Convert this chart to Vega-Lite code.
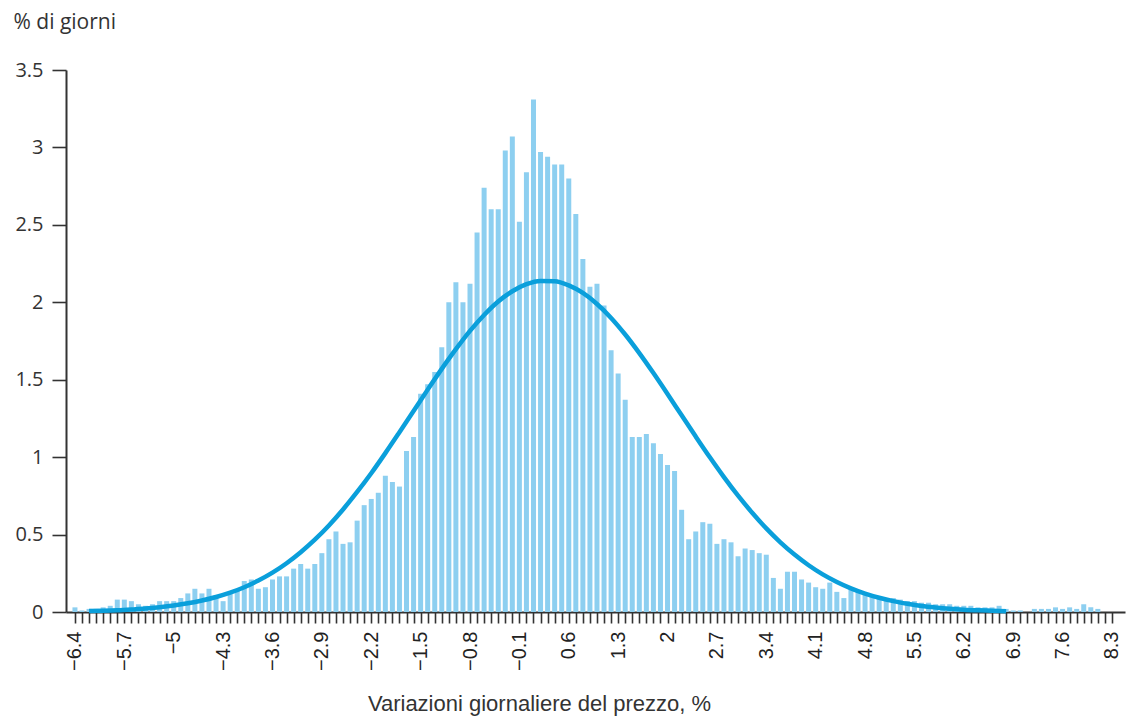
{
  "$schema": "https://vega.github.io/schema/vega-lite/v6.json",
  "autosize": {"type": "none"},
  "width": 1059,
  "height": 542,
  "padding": {"left": 66, "top": 70, "right": 2, "bottom": 108},
  "background": "white",
  "config": {"view": {"stroke": null}},
  "datasets": {
    "bars": [
      {"x": -6.4, "pct": 0.03}, {"x": -6.3, "pct": 0.01}, {"x": -6.2, "pct": 0.02}, {"x": -6.1, "pct": 0.02},
      {"x": -6.0, "pct": 0.03}, {"x": -5.9, "pct": 0.04}, {"x": -5.8, "pct": 0.08}, {"x": -5.7, "pct": 0.08},
      {"x": -5.6, "pct": 0.07}, {"x": -5.5, "pct": 0.05}, {"x": -5.4, "pct": 0.04}, {"x": -5.3, "pct": 0.05},
      {"x": -5.2, "pct": 0.07}, {"x": -5.1, "pct": 0.07}, {"x": -5.0, "pct": 0.07}, {"x": -4.9, "pct": 0.09},
      {"x": -4.8, "pct": 0.12}, {"x": -4.7, "pct": 0.15}, {"x": -4.6, "pct": 0.12}, {"x": -4.5, "pct": 0.15},
      {"x": -4.4, "pct": 0.11}, {"x": -4.3, "pct": 0.07}, {"x": -4.2, "pct": 0.12}, {"x": -4.1, "pct": 0.14},
      {"x": -4.0, "pct": 0.20}, {"x": -3.9, "pct": 0.21}, {"x": -3.8, "pct": 0.15}, {"x": -3.7, "pct": 0.16},
      {"x": -3.6, "pct": 0.21}, {"x": -3.5, "pct": 0.23}, {"x": -3.4, "pct": 0.23}, {"x": -3.3, "pct": 0.28},
      {"x": -3.2, "pct": 0.31}, {"x": -3.1, "pct": 0.28}, {"x": -3.0, "pct": 0.31}, {"x": -2.9, "pct": 0.38},
      {"x": -2.8, "pct": 0.47}, {"x": -2.7, "pct": 0.52}, {"x": -2.6, "pct": 0.44}, {"x": -2.5, "pct": 0.45},
      {"x": -2.4, "pct": 0.59}, {"x": -2.3, "pct": 0.69}, {"x": -2.2, "pct": 0.73}, {"x": -2.1, "pct": 0.77},
      {"x": -2.0, "pct": 0.88}, {"x": -1.9, "pct": 0.84}, {"x": -1.8, "pct": 0.81}, {"x": -1.7, "pct": 1.04},
      {"x": -1.6, "pct": 1.13}, {"x": -1.5, "pct": 1.41}, {"x": -1.4, "pct": 1.47}, {"x": -1.3, "pct": 1.55},
      {"x": -1.2, "pct": 1.71}, {"x": -1.1, "pct": 2.00}, {"x": -1.0, "pct": 2.13}, {"x": -0.9, "pct": 2.00},
      {"x": -0.8, "pct": 2.12}, {"x": -0.7, "pct": 2.45}, {"x": -0.6, "pct": 2.74}, {"x": -0.5, "pct": 2.60},
      {"x": -0.4, "pct": 2.60}, {"x": -0.3, "pct": 2.98}, {"x": -0.2, "pct": 3.07}, {"x": -0.1, "pct": 2.52},
      {"x": 0.0, "pct": 2.84}, {"x": 0.1, "pct": 3.31}, {"x": 0.2, "pct": 2.97}, {"x": 0.3, "pct": 2.94},
      {"x": 0.4, "pct": 2.89}, {"x": 0.5, "pct": 2.89}, {"x": 0.6, "pct": 2.80}, {"x": 0.7, "pct": 2.57},
      {"x": 0.8, "pct": 2.28}, {"x": 0.9, "pct": 2.10}, {"x": 1.0, "pct": 2.12}, {"x": 1.1, "pct": 1.98},
      {"x": 1.2, "pct": 1.69}, {"x": 1.3, "pct": 1.54}, {"x": 1.4, "pct": 1.37}, {"x": 1.5, "pct": 1.13},
      {"x": 1.6, "pct": 1.13}, {"x": 1.7, "pct": 1.15}, {"x": 1.8, "pct": 1.09}, {"x": 1.9, "pct": 1.02},
      {"x": 2.0, "pct": 0.95}, {"x": 2.1, "pct": 0.91}, {"x": 2.2, "pct": 0.66}, {"x": 2.3, "pct": 0.47},
      {"x": 2.4, "pct": 0.52}, {"x": 2.5, "pct": 0.58}, {"x": 2.6, "pct": 0.57}, {"x": 2.7, "pct": 0.44},
      {"x": 2.8, "pct": 0.47}, {"x": 2.9, "pct": 0.45}, {"x": 3.0, "pct": 0.36}, {"x": 3.1, "pct": 0.41},
      {"x": 3.2, "pct": 0.40}, {"x": 3.3, "pct": 0.38}, {"x": 3.4, "pct": 0.37}, {"x": 3.5, "pct": 0.22},
      {"x": 3.6, "pct": 0.15}, {"x": 3.7, "pct": 0.26}, {"x": 3.8, "pct": 0.26}, {"x": 3.9, "pct": 0.21},
      {"x": 4.0, "pct": 0.19}, {"x": 4.1, "pct": 0.16}, {"x": 4.2, "pct": 0.15}, {"x": 4.3, "pct": 0.19},
      {"x": 4.4, "pct": 0.13}, {"x": 4.5, "pct": 0.09}, {"x": 4.6, "pct": 0.15}, {"x": 4.7, "pct": 0.13},
      {"x": 4.8, "pct": 0.12}, {"x": 4.9, "pct": 0.10}, {"x": 5.0, "pct": 0.10}, {"x": 5.1, "pct": 0.09},
      {"x": 5.2, "pct": 0.09}, {"x": 5.3, "pct": 0.08}, {"x": 5.4, "pct": 0.07}, {"x": 5.5, "pct": 0.07},
      {"x": 5.6, "pct": 0.06}, {"x": 5.7, "pct": 0.06}, {"x": 5.8, "pct": 0.05}, {"x": 5.9, "pct": 0.05},
      {"x": 6.0, "pct": 0.05}, {"x": 6.1, "pct": 0.04}, {"x": 6.2, "pct": 0.04}, {"x": 6.3, "pct": 0.04},
      {"x": 6.4, "pct": 0.03}, {"x": 6.5, "pct": 0.03}, {"x": 6.6, "pct": 0.03}, {"x": 6.7, "pct": 0.04},
      {"x": 6.8, "pct": 0.02}, {"x": 6.9, "pct": 0.01}, {"x": 7.0, "pct": 0.01}, {"x": 7.1, "pct": 0.0},
      {"x": 7.2, "pct": 0.02}, {"x": 7.3, "pct": 0.02}, {"x": 7.4, "pct": 0.02}, {"x": 7.5, "pct": 0.03},
      {"x": 7.6, "pct": 0.02}, {"x": 7.7, "pct": 0.03}, {"x": 7.8, "pct": 0.02}, {"x": 7.9, "pct": 0.05},
      {"x": 8.0, "pct": 0.03}, {"x": 8.1, "pct": 0.02}, {"x": 8.2, "pct": 0.0}, {"x": 8.3, "pct": 0.0}
    ],
    "curve": [
      {"x": -6.2, "pct": 0.006}, {"x": -6.0, "pct": 0.008}, {"x": -5.8, "pct": 0.011}, {"x": -5.6, "pct": 0.016},
      {"x": -5.4, "pct": 0.022}, {"x": -5.2, "pct": 0.031}, {"x": -5.0, "pct": 0.042}, {"x": -4.8, "pct": 0.056},
      {"x": -4.6, "pct": 0.074}, {"x": -4.4, "pct": 0.097}, {"x": -4.2, "pct": 0.125}, {"x": -4.0, "pct": 0.160},
      {"x": -3.8, "pct": 0.203}, {"x": -3.6, "pct": 0.254}, {"x": -3.4, "pct": 0.315}, {"x": -3.2, "pct": 0.386},
      {"x": -3.0, "pct": 0.467}, {"x": -2.8, "pct": 0.559}, {"x": -2.6, "pct": 0.662}, {"x": -2.4, "pct": 0.775},
      {"x": -2.2, "pct": 0.896}, {"x": -2.0, "pct": 1.026}, {"x": -1.8, "pct": 1.161}, {"x": -1.6, "pct": 1.298},
      {"x": -1.4, "pct": 1.436}, {"x": -1.2, "pct": 1.570}, {"x": -1.0, "pct": 1.697}, {"x": -0.8, "pct": 1.815},
      {"x": -0.6, "pct": 1.918}, {"x": -0.4, "pct": 2.005}, {"x": -0.2, "pct": 2.071}, {"x": 0.0, "pct": 2.117},
      {"x": 0.2, "pct": 2.138}, {"x": 0.4, "pct": 2.136}, {"x": 0.6, "pct": 2.109}, {"x": 0.8, "pct": 2.060},
      {"x": 1.0, "pct": 1.989}, {"x": 1.2, "pct": 1.899}, {"x": 1.4, "pct": 1.792}, {"x": 1.6, "pct": 1.672},
      {"x": 1.8, "pct": 1.543}, {"x": 2.0, "pct": 1.408}, {"x": 2.2, "pct": 1.270}, {"x": 2.4, "pct": 1.133},
      {"x": 2.6, "pct": 0.999}, {"x": 2.8, "pct": 0.871}, {"x": 3.0, "pct": 0.751}, {"x": 3.2, "pct": 0.641},
      {"x": 3.4, "pct": 0.540}, {"x": 3.6, "pct": 0.450}, {"x": 3.8, "pct": 0.371}, {"x": 4.0, "pct": 0.302},
      {"x": 4.2, "pct": 0.243}, {"x": 4.4, "pct": 0.194}, {"x": 4.6, "pct": 0.153}, {"x": 4.8, "pct": 0.119},
      {"x": 5.0, "pct": 0.092}, {"x": 5.2, "pct": 0.070}, {"x": 5.4, "pct": 0.053}, {"x": 5.6, "pct": 0.039},
      {"x": 5.8, "pct": 0.029}, {"x": 6.0, "pct": 0.021}, {"x": 6.2, "pct": 0.015}, {"x": 6.4, "pct": 0.011},
      {"x": 6.6, "pct": 0.008}, {"x": 6.8, "pct": 0.005}
    ]
  },
  "encoding": {
    "x": {
      "field": "x",
      "type": "quantitative",
      "scale": {"domain": [-6.456, 8.414], "nice": false, "zero": false},
      "axis": {
        "title": "Variazioni giornaliere del prezzo, %",
        "titleFont": "Liberation Sans",
        "titleFontSize": 22,
        "titleFontWeight": "normal",
        "titleColor": "#333333",
        "titleX": 473,
        "titleY": 91,
        "titleAlign": "center",
        "titleBaseline": "middle",
        "values": [-6.4,-6.3,-6.2,-6.1,-6,-5.9,-5.8,-5.7,-5.6,-5.5,-5.4,-5.3,-5.2,-5.1,-5,-4.9,-4.8,-4.7,-4.6,-4.5,-4.4,-4.3,-4.2,-4.1,-4,-3.9,-3.8,-3.7,-3.6,-3.5,-3.4,-3.3,-3.2,-3.1,-3,-2.9,-2.8,-2.7,-2.6,-2.5,-2.4,-2.3,-2.2,-2.1,-2,-1.9,-1.8,-1.7,-1.6,-1.5,-1.4,-1.3,-1.2,-1.1,-1,-0.9,-0.8,-0.7,-0.6,-0.5,-0.4,-0.3,-0.2,-0.1,0,0.1,0.2,0.3,0.4,0.5,0.6,0.7,0.8,0.9,1,1.1,1.2,1.3,1.4,1.5,1.6,1.7,1.8,1.9,2,2.1,2.2,2.3,2.4,2.5,2.6,2.7,2.8,2.9,3,3.1,3.2,3.3,3.4,3.5,3.6,3.7,3.8,3.9,4,4.1,4.2,4.3,4.4,4.5,4.6,4.7,4.8,4.9,5,5.1,5.2,5.3,5.4,5.5,5.6,5.7,5.8,5.9,6,6.1,6.2,6.3,6.4,6.5,6.6,6.7,6.8,6.9,7,7.1,7.2,7.3,7.4,7.5,7.6,7.7,7.8,7.9,8,8.1,8.2,8.3],
        "labelExpr": "(round((datum.value + 6.4) * 10) % 7 == 0) ? format(datum.value, '.1~f') : ''",
        "labelAngle": 270,
        "labelAlign": "right",
        "labelBaseline": "middle",
        "labelFont": "Liberation Sans",
        "labelFontSize": 20,
        "labelColor": "#222222",
        "labelPadding": 8,
        "labelOverlap": false,
        "labelFlush": false,
        "tickSize": 11,
        "tickWidth": 1.6,
        "tickColor": "#333333",
        "domainColor": "#333333",
        "domainWidth": 2,
        "grid": false
      }
    },
    "y": {
      "field": "pct",
      "type": "quantitative",
      "scale": {"domain": [0, 3.5], "nice": false},
      "axis": {
        "title": "% di giorni",
        "titleFont": "Open Sans",
        "titleFontSize": 21,
        "titleFontWeight": "normal",
        "titleColor": "#333333",
        "titleAngle": 0,
        "titleX": -53,
        "titleY": -48,
        "titleAlign": "left",
        "titleBaseline": "middle",
        "values": [0, 0.5, 1, 1.5, 2, 2.5, 3, 3.5],
        "format": "~g",
        "labelFont": "Open Sans",
        "labelFontSize": 20,
        "labelColor": "#333333",
        "labelPadding": 9,
        "tickSize": 14,
        "tickWidth": 1.6,
        "tickColor": "#333333",
        "domainColor": "#333333",
        "domainWidth": 2,
        "grid": false
      }
    }
  },
  "layer": [
    {
      "data": {"name": "bars"},
      "mark": {"type": "bar", "width": 5, "color": "#8DCFF0"}
    },
    {
      "data": {"name": "curve"},
      "mark": {"type": "line", "color": "#0A9FDB", "strokeWidth": 4.5, "interpolate": "monotone"}
    }
  ]
}
